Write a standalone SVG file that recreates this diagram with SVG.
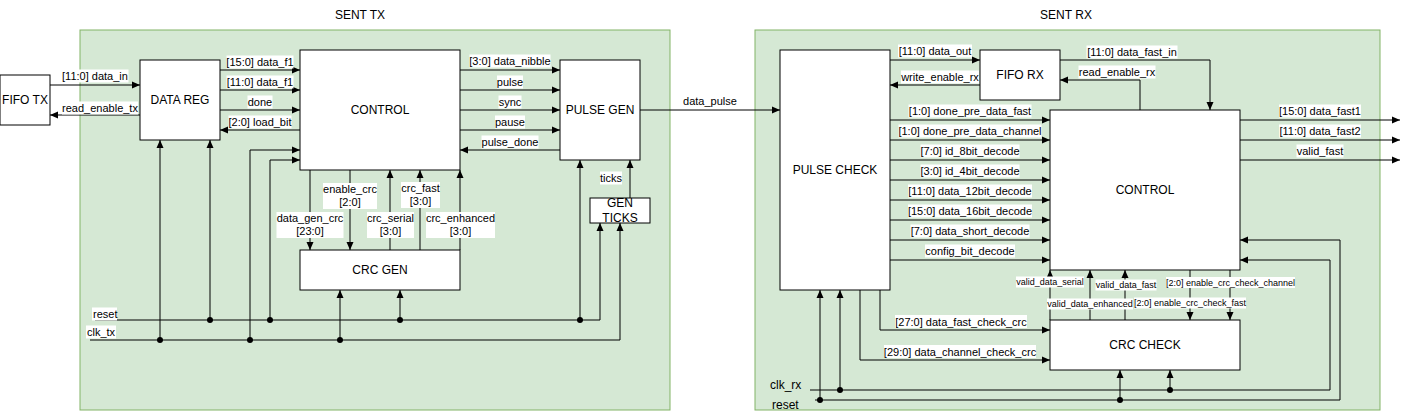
<svg xmlns="http://www.w3.org/2000/svg" width="1409" height="420" viewBox="0 0 1409 420">
<style>
text{font-family:"Liberation Sans",Arial,Helvetica,sans-serif;fill:#000;text-anchor:middle}
.c{fill:#d5e8d4;stroke:#82b366;stroke-width:1}
.n{fill:#fff;stroke:#000;stroke-width:1}
.w{fill:none;stroke:#000;stroke-width:1}
.a{marker-end:url(#ar)}
.lb{fill:#fff;stroke:none}
.t11{font-size:11px}
.t12{font-size:12px}
.t9{font-size:9px}
.l{text-anchor:start}
.d{fill:#000}
</style>
<defs>
<marker id="ar" markerWidth="8" markerHeight="8" refX="8" refY="4" orient="auto" markerUnits="userSpaceOnUse"><path d="M0,0.5 L8,4 L0,7.5 z" fill="#000"/></marker>
</defs>
<rect width="1409" height="420" fill="#fff"/>
<g id="sent-tx"><rect class="c" x="80" y="30" width="590" height="380"/><text class="t12" x="360" y="19">SENT TX</text></g>
<g id="sent-rx"><rect class="c" x="755" y="30" width="625" height="380"/><text class="t12" x="1066" y="19">SENT RX</text></g>

<g id="connectors">
<path class="w a" d="M50,85H140"/>
<path class="w a" d="M140,115H50"/>
<path class="w a" d="M220,70H300"/>
<path class="w a" d="M220,90H300"/>
<path class="w a" d="M220,110H300"/>
<path class="w a" d="M300,130H220"/>
<path class="w a" d="M460,70H560"/>
<path class="w a" d="M460,90H560"/>
<path class="w a" d="M460,110H560"/>
<path class="w a" d="M460,130H560"/>
<path class="w a" d="M560,150H460"/>
<path class="w a" d="M310,170V250"/>
<path class="w a" d="M350,170V250"/>
<path class="w a" d="M390,250V170"/>
<path class="w a" d="M420,250V170"/>
<path class="w a" d="M460,250V170"/>
<path class="w a" d="M630,198V160"/>
<path class="w a" d="M95,320H600V223"/>
<path class="w a" d="M90,340H620V223"/>
<path class="w a" d="M160,340V140"/>
<path class="w a" d="M210,320V140"/>
<path class="w a" d="M250,340V150H300"/>
<path class="w a" d="M270,320V160H300"/>
<path class="w a" d="M340,340V290"/>
<path class="w a" d="M400,320V290"/>
<path class="w a" d="M580,320V160"/>
<path class="w a" d="M640,110H780"/>

<path class="w a" d="M890,60H980"/>
<path class="w a" d="M980,85H890"/>
<path class="w a" d="M1060,60H1210V110"/>
<path class="w a" d="M1140,110V80H1060"/>
<path class="w a" d="M1240,120H1400"/>
<path class="w a" d="M1240,140H1400"/>
<path class="w a" d="M1240,160H1400"/>
<path class="w a" d="M890,120H1050"/>
<path class="w a" d="M890,140H1050"/>
<path class="w a" d="M890,160H1050"/>
<path class="w a" d="M890,180H1050"/>
<path class="w a" d="M890,200H1050"/>
<path class="w a" d="M890,220H1050"/>
<path class="w a" d="M890,240H1050"/>
<path class="w a" d="M890,260H1050"/>
<path class="w a" d="M880,290V330H1050"/>
<path class="w a" d="M860,290V360H1050"/>
<path class="w a" d="M810,390H1330V260H1240"/>
<path class="w a" d="M815,400H1340V240H1240"/>
<path class="w a" d="M820,400V290"/>
<path class="w a" d="M840,390V290"/>
<path class="w a" d="M1120,400V370"/>
<path class="w a" d="M1170,390V370"/>
<path class="w a" d="M1050,320V270"/>
<path class="w a" d="M1090,320V270"/>
<path class="w a" d="M1125,320V270"/>
<path class="w a" d="M1190,270V320"/>
<path class="w a" d="M1230,270V320"/>

<g class="d">
<circle cx="160" cy="340" r="3"/><circle cx="250" cy="340" r="3"/><circle cx="340" cy="340" r="3"/>
<circle cx="210" cy="320" r="3"/><circle cx="270" cy="320" r="3"/><circle cx="400" cy="320" r="3"/><circle cx="580" cy="320" r="3"/>
<circle cx="820" cy="400" r="3"/><circle cx="840" cy="390" r="3"/><circle cx="1120" cy="400" r="3"/><circle cx="1170" cy="390" r="3"/>
</g>

<g id="labels">
<rect class="lb" x="61.5" y="69.5" width="67" height="13"/><text class="t11" x="95" y="80">[11:0] data_in</text>
<rect class="lb" x="62" y="101.5" width="76" height="13"/><text class="t11" x="100" y="112">read_enable_tx</text>
<rect class="lb" x="226.5" y="55.5" width="67" height="13"/><text class="t11" x="260" y="66">[15:0] data_f1</text>
<rect class="lb" x="226.5" y="75.5" width="67" height="13"/><text class="t11" x="260" y="86">[11:0] data_f1</text>
<rect class="lb" x="247.5" y="95.5" width="25" height="13"/><text class="t11" x="260" y="106">done</text>
<rect class="lb" x="228.5" y="115.5" width="63" height="13"/><text class="t11" x="260" y="126">[2:0] load_bit</text>
<rect class="lb" x="469.5" y="54.5" width="81" height="13"/><text class="t11" x="510" y="65">[3:0] data_nibble</text>
<rect class="lb" x="497" y="75.5" width="26" height="13"/><text class="t11" x="510" y="86">pulse</text>
<rect class="lb" x="498.5" y="95.5" width="23" height="13"/><text class="t11" x="510" y="106">sync</text>
<rect class="lb" x="495" y="115.5" width="30" height="13"/><text class="t11" x="510" y="126">pause</text>
<rect class="lb" x="481.5" y="135.5" width="57" height="13"/><text class="t11" x="510" y="146">pulse_done</text>
<rect class="lb" x="323" y="183" width="54" height="26"/><text class="t11" x="350" y="193">enable_crc</text><text class="t11" x="350" y="206">[2:0]</text>
<rect class="lb" x="276.5" y="212" width="67" height="26"/><text class="t11" x="310" y="222">data_gen_crc</text><text class="t11" x="310" y="235">[23:0]</text>
<rect class="lb" x="367" y="212" width="47" height="26"/><text class="t11" x="390.5" y="222">crc_serial</text><text class="t11" x="390.5" y="235">[3:0]</text>
<rect class="lb" x="401" y="182" width="39" height="26"/><text class="t11" x="420.5" y="192">crc_fast</text><text class="t11" x="420.5" y="205">[3:0]</text>
<rect class="lb" x="426" y="212" width="69" height="26"/><text class="t11" x="460.5" y="222">crc_enhanced</text><text class="t11" x="460.5" y="235">[3:0]</text>
<rect class="lb" x="600" y="171.5" width="22" height="13"/><text class="t11" x="611" y="182">ticks</text>
<rect class="lb" x="92" y="307.5" width="25" height="13"/><text class="t11 l" x="93" y="318">reset</text>
<rect class="lb" x="86" y="325.5" width="30" height="13"/><text class="t11 l" x="87" y="336">clk_tx</text>
<text class="t11" x="710" y="105">data_pulse</text>

<rect class="lb" x="898" y="44.5" width="74" height="13"/><text class="t11" x="935" y="55">[11:0] data_out</text>
<rect class="lb" x="901" y="70.5" width="78" height="13"/><text class="t11" x="940" y="81">write_enable_rx</text>
<rect class="lb" x="1086.5" y="45.5" width="91" height="13"/><text class="t11" x="1132" y="56">[11:0] data_fast_in</text>
<rect class="lb" x="1078.5" y="65.5" width="77" height="13"/><text class="t11" x="1117" y="76">read_enable_rx</text>
<rect class="lb" x="1279" y="104.5" width="82" height="13"/><text class="t11" x="1320" y="115">[15:0] data_fast1</text>
<rect class="lb" x="1279" y="124.5" width="82" height="13"/><text class="t11" x="1320" y="135">[11:0] data_fast2</text>
<rect class="lb" x="1296.5" y="144.5" width="47" height="13"/><text class="t11" x="1320" y="155">valid_fast</text>
<rect class="lb" x="908.5" y="104.5" width="123" height="13"/><text class="t11" x="970" y="115">[1:0] done_pre_data_fast</text>
<rect class="lb" x="898.5" y="124.5" width="143" height="13"/><text class="t11" x="970" y="135">[1:0] done_pre_data_channel</text>
<rect class="lb" x="920.5" y="144.5" width="99" height="13"/><text class="t11" x="970" y="155">[7:0] id_8bit_decode</text>
<rect class="lb" x="920.5" y="164.5" width="99" height="13"/><text class="t11" x="970" y="175">[3:0] id_4bit_decode</text>
<rect class="lb" x="908" y="184.5" width="124" height="13"/><text class="t11" x="970" y="195">[11:0] data_12bit_decode</text>
<rect class="lb" x="908" y="204.5" width="124" height="13"/><text class="t11" x="970" y="215">[15:0] data_16bit_decode</text>
<rect class="lb" x="910.5" y="224.5" width="119" height="13"/><text class="t11" x="970" y="235">[7:0] data_short_decode</text>
<rect class="lb" x="925" y="244.5" width="90" height="13"/><text class="t11" x="970" y="255">config_bit_decode</text>
<rect class="lb" x="895" y="315" width="132" height="13"/><text class="t11" x="961" y="325.5">[27:0] data_fast_check_crc</text>
<rect class="lb" x="884" y="345" width="152" height="13"/><text class="t11" x="960" y="355.5">[29:0] data_channel_check_crc</text>
<rect class="lb" x="1016" y="276.5" width="68" height="11"/><text class="t9" x="1050" y="285.3">valid_data_serial</text>
<rect class="lb" x="1095.5" y="279.5" width="61" height="11"/><text class="t9" x="1126" y="288.3">valid_data_fast</text>
<rect class="lb" x="1166" y="277" width="129" height="11"/><text class="t9" x="1230.5" y="285.8">[2:0] enable_crc_check_channel</text>
<rect class="lb" x="1047" y="298.5" width="86" height="11"/><text class="t9" x="1090" y="307.3">valid_data_enhanced</text>
<rect class="lb" x="1134" y="297.5" width="112" height="11"/><text class="t9" x="1190" y="306.3">[2:0] enable_crc_check_fast</text>
<text class="t12 l" x="770" y="389">clk_rx</text>
<text class="t12 l" x="772" y="409">reset</text>
</g>
</g>

<g id="fifo-tx"><rect class="n" x="0" y="75" width="50" height="50"/><text class="t12" x="25" y="104">FIFO TX</text></g>
<g id="data-reg"><rect class="n" x="140" y="60" width="80" height="80"/><text class="t12" x="180" y="104">DATA REG</text></g>
<g id="control-tx"><rect class="n" x="300" y="50" width="160" height="120"/><text class="t12" x="380" y="114">CONTROL</text></g>
<g id="pulse-gen"><rect class="n" x="560" y="60" width="80" height="100"/><text class="t12" x="600" y="114">PULSE GEN</text></g>
<g id="crc-gen"><rect class="n" x="300" y="250" width="160" height="40"/><text class="t12" x="380" y="274">CRC GEN</text></g>
<g id="gen-ticks"><rect class="n" x="590" y="198" width="60" height="25"/><text class="t12" x="620" y="207">GEN</text><text class="t12" x="620" y="221.5">TICKS</text></g>

<g id="pulse-check"><rect class="n" x="780" y="50" width="110" height="240"/><text class="t12" x="835" y="174">PULSE CHECK</text></g>
<g id="fifo-rx"><rect class="n" x="980" y="50" width="80" height="50"/><text class="t12" x="1020" y="79">FIFO RX</text></g>
<g id="control-rx"><rect class="n" x="1050" y="110" width="190" height="160"/><text class="t12" x="1145" y="194">CONTROL</text></g>
<g id="crc-check"><rect class="n" x="1050" y="320" width="190" height="50"/><text class="t12" x="1145" y="349">CRC CHECK</text></g>
</svg>
